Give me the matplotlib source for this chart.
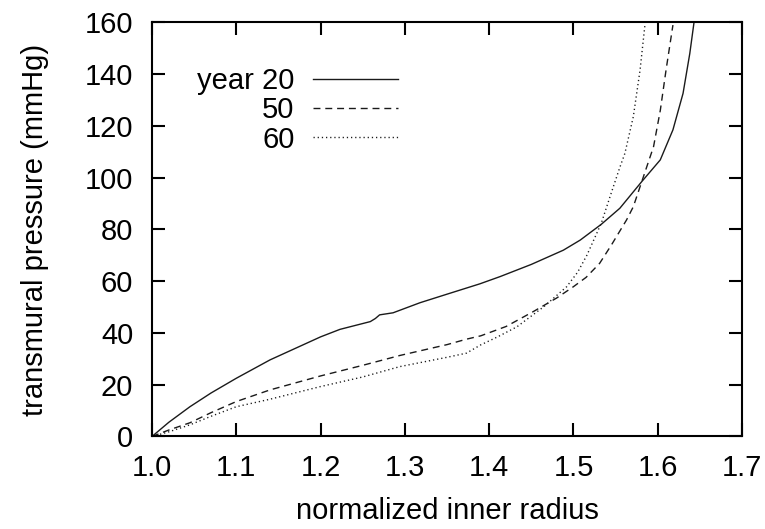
import matplotlib
matplotlib.use("Agg")
import matplotlib.pyplot as plt

# ---- data ----
x20 = [1.0, 1.02, 1.045, 1.07, 1.1, 1.14, 1.2, 1.223, 1.259, 1.265, 1.27, 1.286,
       1.318, 1.35, 1.389, 1.413, 1.45, 1.488, 1.508, 1.533, 1.555, 1.581,
       1.603, 1.618, 1.630, 1.638, 1.643]
y20 = [0, 5.5, 11.5, 16.8, 22.5, 29.6, 38.5, 41.4, 44.4, 45.6, 47.0, 47.8,
       51.7, 55.0, 59.0, 61.8, 66.5, 72.0, 75.9, 82.0, 88.2, 98.5,
       106.9, 118.5, 132.6, 148.0, 160]

x50 = [1.0, 1.02, 1.045, 1.07, 1.1, 1.14, 1.2, 1.25, 1.294, 1.35, 1.373, 1.39,
       1.42, 1.452, 1.48, 1.5, 1.515, 1.531, 1.545, 1.563, 1.571, 1.583, 1.595,
       1.603, 1.610, 1.618]
y50 = [0, 2.5, 5.3, 9.2, 13.5, 18, 23.4, 27.5, 31.3, 35.5, 37.6, 38.9,
       42.5, 48.2, 53.5, 57.9, 61.5, 66.9, 74.0, 83.7, 88.8, 100.4, 112.0,
       126.0, 142.0, 159.0]

x60 = [1.0, 1.02, 1.045, 1.07, 1.1, 1.14, 1.2, 1.25, 1.294, 1.35, 1.373, 1.39,
       1.41, 1.433, 1.465, 1.492, 1.505, 1.516, 1.533, 1.544, 1.555, 1.561,
       1.571, 1.579, 1.585]
y60 = [0, 1.8, 4.5, 7.8, 11.5, 14.4, 19.3, 23.0, 27.0, 30.6, 32.2, 35.4,
       38.5, 42.4, 50.2, 57.9, 63.5, 70.1, 82.4, 93.3, 104.0, 109.4,
       123.6, 141.6, 159.7]

labels = ["year 20", "50", "60"]
xticks = [1.0, 1.1, 1.2, 1.3, 1.4, 1.5, 1.6, 1.7]
yticks = [0, 20, 40, 60, 80, 100, 120, 140, 160]

plt.rcParams['font.family'] = ['Liberation Sans', 'DejaVu Sans']

fig = plt.figure(figsize=(7.65, 5.29), dpi=100)
ax = fig.add_axes([0.1987, 0.1749, 0.7713, 0.7826])

col = '#1a1a1a'
ax.plot(x20, y20, color=col, lw=1.0, label=labels[0])
l50, = ax.plot(x50, y50, color=col, lw=1.0, label=labels[1])
l50.set_dashes((5, 3.5))
l60, = ax.plot(x60, y60, color=col, lw=1.0, label=labels[2])
l60.set_dashes((0.9, 2.1))

ax.set_xlim(1.0, 1.7)
ax.set_ylim(0, 160)
ax.set_xticks(xticks)
ax.set_xticklabels([f"{t:.1f}" for t in xticks])
ax.set_yticks(yticks)
ax.set_yticklabels([str(t) for t in yticks])

for s in ax.spines.values():
    s.set_linewidth(1.5)
    s.set_color('black')
ax.tick_params(direction='in', length=9.5, width=1.5, top=True, right=True,
               labelsize=21)
ax.tick_params(axis='x', pad=12.5)
ax.tick_params(axis='y', pad=13.5)

ax.set_xlabel("normalized inner radius", fontsize=21, labelpad=11)
ax.set_ylabel("transmural pressure (mmHg)", fontsize=21, labelpad=26)

leg = ax.legend(loc='upper right', bbox_to_anchor=(0.417, 0.893),
                frameon=False, markerfirst=False, fontsize=21,
                handlelength=2.9, handletextpad=0.65, labelspacing=0.05,
                borderpad=0, borderaxespad=0)

fig.savefig("out.png", dpi=100)
